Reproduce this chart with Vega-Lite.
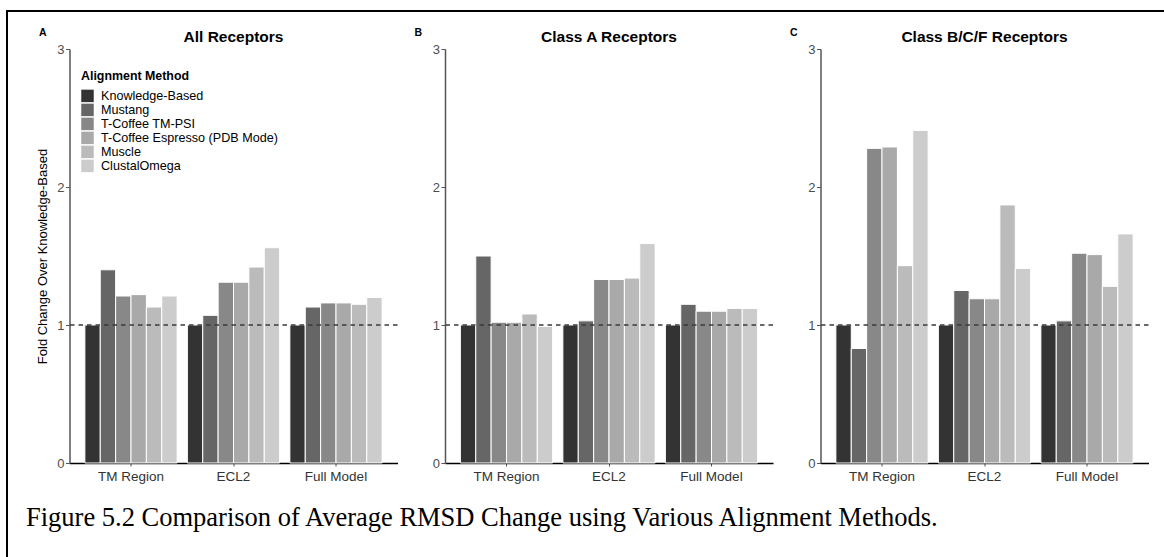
{
  "$schema": "https://vega.github.io/schema/vega-lite/v6.json",
  "background": "white",
  "padding": {"left": 7, "top": 11, "right": 0, "bottom": 0},
  "params": [
    {"name": "width", "value": 1200},
    {"name": "height", "value": 600}
  ],
  "datasets": {
    "all": [
      {"region": "TM Region", "method": "Knowledge-Based", "value": 1.0},
      {"region": "TM Region", "method": "Mustang", "value": 1.40},
      {"region": "TM Region", "method": "T-Coffee TM-PSI", "value": 1.21},
      {"region": "TM Region", "method": "T-Coffee Espresso (PDB Mode)", "value": 1.22},
      {"region": "TM Region", "method": "Muscle", "value": 1.13},
      {"region": "TM Region", "method": "ClustalOmega", "value": 1.21},
      {"region": "ECL2", "method": "Knowledge-Based", "value": 1.0},
      {"region": "ECL2", "method": "Mustang", "value": 1.07},
      {"region": "ECL2", "method": "T-Coffee TM-PSI", "value": 1.31},
      {"region": "ECL2", "method": "T-Coffee Espresso (PDB Mode)", "value": 1.31},
      {"region": "ECL2", "method": "Muscle", "value": 1.42},
      {"region": "ECL2", "method": "ClustalOmega", "value": 1.56},
      {"region": "Full Model", "method": "Knowledge-Based", "value": 1.0},
      {"region": "Full Model", "method": "Mustang", "value": 1.13},
      {"region": "Full Model", "method": "T-Coffee TM-PSI", "value": 1.16},
      {"region": "Full Model", "method": "T-Coffee Espresso (PDB Mode)", "value": 1.16},
      {"region": "Full Model", "method": "Muscle", "value": 1.15},
      {"region": "Full Model", "method": "ClustalOmega", "value": 1.20}
    ],
    "classA": [
      {"region": "TM Region", "method": "Knowledge-Based", "value": 1.0},
      {"region": "TM Region", "method": "Mustang", "value": 1.50},
      {"region": "TM Region", "method": "T-Coffee TM-PSI", "value": 1.02},
      {"region": "TM Region", "method": "T-Coffee Espresso (PDB Mode)", "value": 1.02},
      {"region": "TM Region", "method": "Muscle", "value": 1.08},
      {"region": "TM Region", "method": "ClustalOmega", "value": 0.99},
      {"region": "ECL2", "method": "Knowledge-Based", "value": 1.0},
      {"region": "ECL2", "method": "Mustang", "value": 1.03},
      {"region": "ECL2", "method": "T-Coffee TM-PSI", "value": 1.33},
      {"region": "ECL2", "method": "T-Coffee Espresso (PDB Mode)", "value": 1.33},
      {"region": "ECL2", "method": "Muscle", "value": 1.34},
      {"region": "ECL2", "method": "ClustalOmega", "value": 1.59},
      {"region": "Full Model", "method": "Knowledge-Based", "value": 1.0},
      {"region": "Full Model", "method": "Mustang", "value": 1.15},
      {"region": "Full Model", "method": "T-Coffee TM-PSI", "value": 1.10},
      {"region": "Full Model", "method": "T-Coffee Espresso (PDB Mode)", "value": 1.10},
      {"region": "Full Model", "method": "Muscle", "value": 1.12},
      {"region": "Full Model", "method": "ClustalOmega", "value": 1.12}
    ],
    "classBCF": [
      {"region": "TM Region", "method": "Knowledge-Based", "value": 1.0},
      {"region": "TM Region", "method": "Mustang", "value": 0.83},
      {"region": "TM Region", "method": "T-Coffee TM-PSI", "value": 2.28},
      {"region": "TM Region", "method": "T-Coffee Espresso (PDB Mode)", "value": 2.29},
      {"region": "TM Region", "method": "Muscle", "value": 1.43},
      {"region": "TM Region", "method": "ClustalOmega", "value": 2.41},
      {"region": "ECL2", "method": "Knowledge-Based", "value": 1.0},
      {"region": "ECL2", "method": "Mustang", "value": 1.25},
      {"region": "ECL2", "method": "T-Coffee TM-PSI", "value": 1.19},
      {"region": "ECL2", "method": "T-Coffee Espresso (PDB Mode)", "value": 1.19},
      {"region": "ECL2", "method": "Muscle", "value": 1.87},
      {"region": "ECL2", "method": "ClustalOmega", "value": 1.41},
      {"region": "Full Model", "method": "Knowledge-Based", "value": 1.0},
      {"region": "Full Model", "method": "Mustang", "value": 1.03},
      {"region": "Full Model", "method": "T-Coffee TM-PSI", "value": 1.52},
      {"region": "Full Model", "method": "T-Coffee Espresso (PDB Mode)", "value": 1.51},
      {"region": "Full Model", "method": "Muscle", "value": 1.28},
      {"region": "Full Model", "method": "ClustalOmega", "value": 1.66}
    ],
    "ref": [{"ref": 1}],
    "none": []
  },
  "spacing": 0,
  "vconcat": [
    {
      "width": 10,
      "height": 16,
      "data": {"name": "none"},
      "mark": "point",
      "view": {"fill": "transparent", "stroke": null}
    },
    {
      "title": {
        "text": "Figure 5.2 Comparison of Average RMSD Change using Various Alignment Methods.",
        "orient": "bottom",
        "anchor": "start",
        "frame": "bounds",
        "font": "Liberation Serif",
        "fontSize": 26.5,
        "fontWeight": "normal",
        "color": "black",
        "offset": 21.5,
        "dx": 19
      },
      "spacing": 15.5,
      "resolve": {"legend": {"color": "independent"}},
      "hconcat": [
        {
          "width": 13,
          "height": 10,
          "data": {"name": "none"},
          "mark": "point",
          "view": {"fill": "transparent", "stroke": null}
        },
        {
          "width": 328,
          "height": 414,
          "data": {"name": "all"},
          "title": {"text": "All Receptors"},
          "resolve": {"axis": {"y": "independent"}},
          "layer": [
            {
              "mark": {"type": "bar", "stroke": "white", "strokeWidth": 1},
              "encoding": {
                "x": {"field": "region", "type": "nominal", "sort": ["TM Region", "ECL2", "Full Model"], "scale": {"paddingInner": 0.1, "paddingOuter": 0.15}, "axis": {"title": null}},
                "xOffset": {"field": "method", "type": "nominal", "sort": ["Knowledge-Based", "Mustang", "T-Coffee TM-PSI", "T-Coffee Espresso (PDB Mode)", "Muscle", "ClustalOmega"], "scale": {"paddingInner": 0, "paddingOuter": 0}},
                "y": {"field": "value", "type": "quantitative", "scale": {"domain": [0, 3], "nice": false}, "axis": {"title": "Fold Change Over Knowledge-Based", "values": [0, 1, 2, 3], "format": "d"}},
                "color": {
                  "field": "method", "type": "nominal",
                  "scale": {"domain": ["Knowledge-Based", "Mustang", "T-Coffee TM-PSI", "T-Coffee Espresso (PDB Mode)", "Muscle", "ClustalOmega"], "range": ["#333333", "#666666", "#888888", "#a9a9a9", "#bbbbbb", "#cccccc"]},
                  "legend": {
                    "orient": "none", "legendX": 11.5, "legendY": 21,
                    "title": "Alignment Method",
                    "titleFont": "Liberation Sans", "titleFontSize": 12.4, "titleFontWeight": "bold", "titleColor": "black", "titlePadding": 7,
                    "labelFont": "Liberation Sans", "labelFontSize": 12.6, "labelColor": "black", "labelOffset": 7, "labelLimit": 400,
                    "symbolType": "square", "symbolSize": 156, "symbolStrokeWidth": 0, "symbolOpacity": 1,
                    "rowPadding": 0, "padding": 0
                  }
                }
              }
            },
            {
              "data": {"name": "ref"},
              "mark": {"type": "rule", "color": "#3a3a3a", "strokeWidth": 1.6, "strokeDash": [4.5, 4]},
              "encoding": {
                "y": {"field": "ref", "type": "quantitative", "axis": {"orient": "left", "title": "A", "titleAngle": 0, "titleX": -31, "titleY": -13.3, "titleAlign": "left", "titleBaseline": "alphabetic", "titleFontSize": 10.5, "titleFontWeight": "bold", "domain": false, "ticks": false, "labels": false}}
              }
            }
          ]
        },
        {
          "width": 328,
          "height": 414,
          "data": {"name": "classA"},
          "title": {"text": "Class A Receptors"},
          "resolve": {"axis": {"y": "independent"}},
          "layer": [
            {
              "mark": {"type": "bar", "stroke": "white", "strokeWidth": 1},
              "encoding": {
                "x": {"field": "region", "type": "nominal", "sort": ["TM Region", "ECL2", "Full Model"], "scale": {"paddingInner": 0.1, "paddingOuter": 0.15}, "axis": {"title": null}},
                "xOffset": {"field": "method", "type": "nominal", "sort": ["Knowledge-Based", "Mustang", "T-Coffee TM-PSI", "T-Coffee Espresso (PDB Mode)", "Muscle", "ClustalOmega"], "scale": {"paddingInner": 0, "paddingOuter": 0}},
                "y": {"field": "value", "type": "quantitative", "scale": {"domain": [0, 3], "nice": false}, "axis": {"title": null, "values": [0, 1, 2, 3], "format": "d"}},
                "color": {
                  "field": "method", "type": "nominal",
                  "scale": {"domain": ["Knowledge-Based", "Mustang", "T-Coffee TM-PSI", "T-Coffee Espresso (PDB Mode)", "Muscle", "ClustalOmega"], "range": ["#333333", "#666666", "#888888", "#a9a9a9", "#bbbbbb", "#cccccc"]},
                  "legend": null
                }
              }
            },
            {
              "data": {"name": "ref"},
              "mark": {"type": "rule", "color": "#3a3a3a", "strokeWidth": 1.6, "strokeDash": [4.5, 4]},
              "encoding": {
                "y": {"field": "ref", "type": "quantitative", "axis": {"orient": "left", "title": "B", "titleAngle": 0, "titleX": -31, "titleY": -13.3, "titleAlign": "left", "titleBaseline": "alphabetic", "titleFontSize": 10.5, "titleFontWeight": "bold", "domain": false, "ticks": false, "labels": false}}
              }
            }
          ]
        },
        {
          "width": 328,
          "height": 414,
          "data": {"name": "classBCF"},
          "title": {"text": "Class B/C/F Receptors"},
          "resolve": {"axis": {"y": "independent"}},
          "layer": [
            {
              "mark": {"type": "bar", "stroke": "white", "strokeWidth": 1},
              "encoding": {
                "x": {"field": "region", "type": "nominal", "sort": ["TM Region", "ECL2", "Full Model"], "scale": {"paddingInner": 0.1, "paddingOuter": 0.15}, "axis": {"title": null}},
                "xOffset": {"field": "method", "type": "nominal", "sort": ["Knowledge-Based", "Mustang", "T-Coffee TM-PSI", "T-Coffee Espresso (PDB Mode)", "Muscle", "ClustalOmega"], "scale": {"paddingInner": 0, "paddingOuter": 0}},
                "y": {"field": "value", "type": "quantitative", "scale": {"domain": [0, 3], "nice": false}, "axis": {"title": null, "values": [0, 1, 2, 3], "format": "d"}},
                "color": {
                  "field": "method", "type": "nominal",
                  "scale": {"domain": ["Knowledge-Based", "Mustang", "T-Coffee TM-PSI", "T-Coffee Espresso (PDB Mode)", "Muscle", "ClustalOmega"], "range": ["#333333", "#666666", "#888888", "#a9a9a9", "#bbbbbb", "#cccccc"]},
                  "legend": null
                }
              }
            },
            {
              "data": {"name": "ref"},
              "mark": {"type": "rule", "color": "#3a3a3a", "strokeWidth": 1.6, "strokeDash": [4.5, 4]},
              "encoding": {
                "y": {"field": "ref", "type": "quantitative", "axis": {"orient": "left", "title": "C", "titleAngle": 0, "titleX": -31, "titleY": -13.3, "titleAlign": "left", "titleBaseline": "alphabetic", "titleFontSize": 10.5, "titleFontWeight": "bold", "domain": false, "ticks": false, "labels": false}}
              }
            }
          ]
        }
      ]
    }
  ],
  "config": {
    "group": {"stroke": "#000000", "strokeWidth": 2},
    "view": {"stroke": null},
    "font": "Liberation Sans",
    "title": {"font": "Liberation Sans", "fontSize": 15.5, "fontWeight": "bold", "color": "black", "frame": "group", "anchor": "middle", "offset": -17.5},
    "axis": {"grid": false, "labelFont": "Liberation Sans", "titleFont": "Liberation Sans"},
    "axisX": {"labelAngle": 0, "labelFontSize": 13.5, "labelColor": "#333333", "tickSize": 3, "tickColor": "#555555", "domainColor": "#000000", "domainWidth": 1.3, "labelPadding": 3.5},
    "axisY": {"labelFontSize": 13, "labelColor": "#4d4d4d", "labelFlush": false, "tickSize": 4, "tickColor": "#555555", "domainColor": "#555555", "domainWidth": 1.5, "labelPadding": 1.5, "titleFontSize": 13, "titleFontWeight": "normal", "titleColor": "black", "titlePadding": 7.3}
  }
}
